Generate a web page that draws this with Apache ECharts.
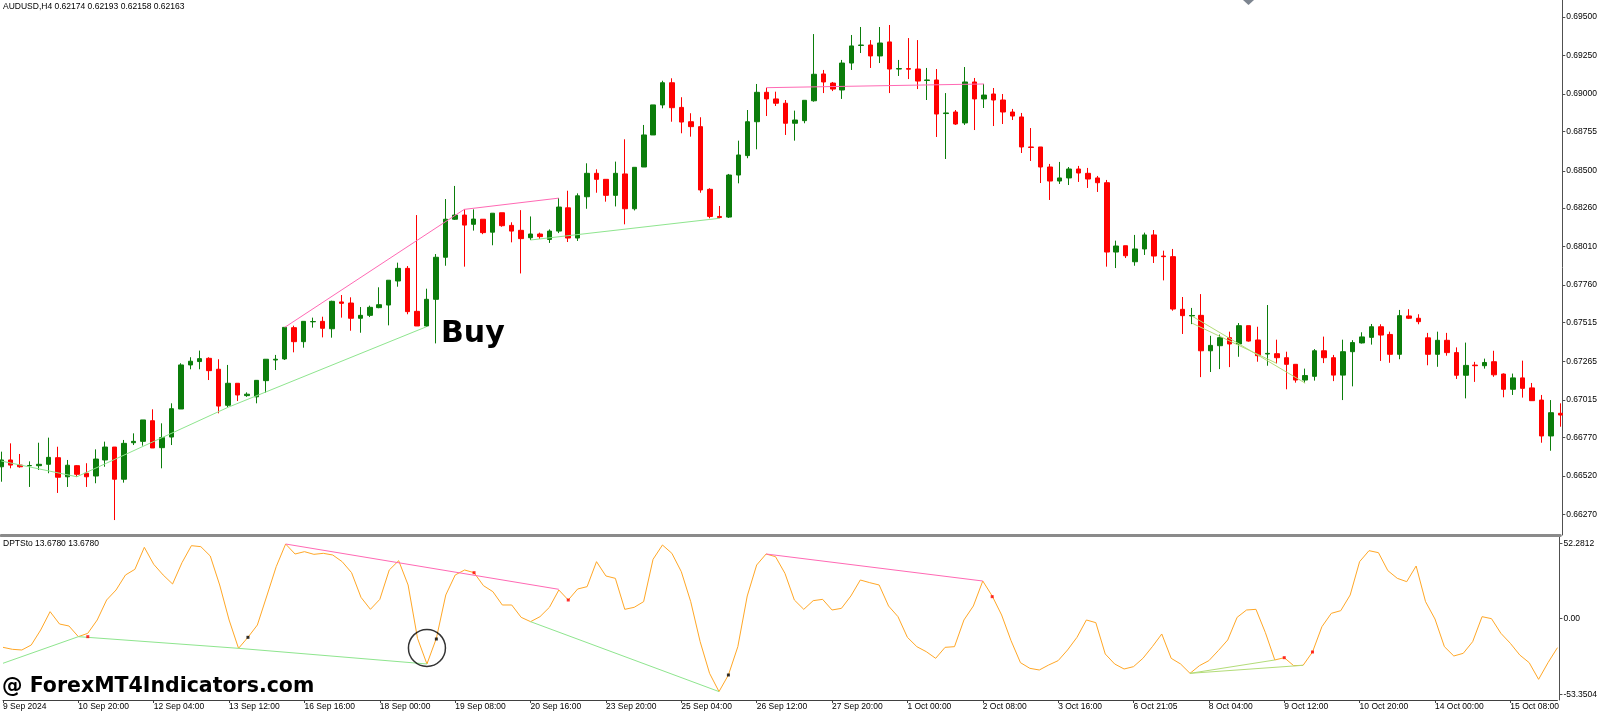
<!DOCTYPE html>
<html><head><meta charset="utf-8">
<script src="https://cdn.jsdelivr.net/npm/echarts@6/dist/echarts.min.js"></script>
<style>html,body{margin:0;padding:0;background:#fff;overflow:hidden}#c{width:1600px;height:712px}</style>
</head><body><div id="c"></div>
<script>
// ---- DATA ----
const symbolTitle = "AUDUSD,H4 0.62174 0.62193 0.62158 0.62163";
const oscTitle = "DPTSto 13.6780 13.6780";
const tickLabels = ["9 Sep 2024","10 Sep 20:00","12 Sep 04:00","13 Sep 12:00","16 Sep 16:00","18 Sep 00:00","19 Sep 08:00","20 Sep 16:00","23 Sep 20:00","25 Sep 04:00","26 Sep 12:00","27 Sep 20:00","1 Oct 00:00","2 Oct 08:00","3 Oct 16:00","6 Oct 21:05","8 Oct 04:00","9 Oct 12:00","10 Oct 20:00","14 Oct 00:00","15 Oct 08:00"];
const barsPerLabel = 8;
const priceTicks = [0.69500,0.69250,0.69000,0.68755,0.68500,0.68260,0.68010,0.67760,0.67515,0.67265,0.67015,0.66770,0.66520,0.66270];
const oscTicks = [52.2812, 0, -53.3504];
// [open, close, low, high]
const candles = [
[0.66580,0.66624,0.66483,0.66678],[0.66624,0.66591,0.66570,0.66732],[0.66591,0.66580,0.66574,0.66663],[0.66587,0.66588,0.66449,0.66615],
[0.66587,0.66596,0.66559,0.66736],[0.66596,0.66641,0.66538,0.66769],[0.66639,0.66512,0.66410,0.66710],[0.66515,0.66590,0.66449,0.66624],
[0.66587,0.66531,0.66515,0.66591],[0.66538,0.66515,0.66449,0.66603],[0.66520,0.66630,0.66473,0.66693],[0.66624,0.66708,0.66580,0.66743],
[0.66708,0.66499,0.66234,0.66708],[0.66499,0.66732,0.66477,0.66754],[0.66736,0.66745,0.66721,0.66797],[0.66745,0.66884,0.66717,0.66884],
[0.66879,0.66702,0.66702,0.66953],[0.66704,0.66769,0.66570,0.66862],[0.66773,0.66957,0.66721,0.66992],[0.66955,0.67241,0.66955,0.67252],
[0.67241,0.67265,0.67213,0.67291],[0.67263,0.67282,0.67213,0.67334],[0.67284,0.67204,0.67143,0.67291],[0.67213,0.66974,0.66927,0.67278],
[0.66979,0.67122,0.66966,0.67241],[0.67122,0.67046,0.67007,0.67122],[0.67042,0.67051,0.67034,0.67063],[0.67034,0.67141,0.66992,0.67143],
[0.67139,0.67278,0.67061,0.67278],[0.67273,0.67278,0.67208,0.67306],[0.67280,0.67485,0.67273,0.67485],[0.67483,0.67392,0.67323,0.67496],
[0.67392,0.67524,0.67353,0.67524],[0.67521,0.67523,0.67483,0.67548],[0.67524,0.67479,0.67420,0.67554],[0.67476,0.67654,0.67418,0.67658],
[0.67650,0.67641,0.67548,0.67695],[0.67643,0.67544,0.67463,0.67680],[0.67544,0.67563,0.67450,0.67617],[0.67563,0.67615,0.67552,0.67626],
[0.67613,0.67632,0.67609,0.67745],[0.67630,0.67791,0.67498,0.67791],[0.67786,0.67868,0.67749,0.67905],[0.67868,0.67587,0.67570,0.67883],
[0.67589,0.67494,0.67494,0.68214],[0.67494,0.67667,0.67489,0.67736],[0.67667,0.67940,0.67381,0.67961],[0.67940,0.68187,0.67885,0.68318],
[0.68187,0.68214,0.68182,0.68403],[0.68214,0.68149,0.67879,0.68251],[0.68154,0.68188,0.68113,0.68251],[0.68187,0.68100,0.68090,0.68187],
[0.68103,0.68226,0.68018,0.68226],[0.68229,0.68145,0.68138,0.68229],[0.68147,0.68110,0.68037,0.68167],[0.68115,0.68061,0.67835,0.68246],
[0.68067,0.68091,0.68052,0.68205],[0.68091,0.68074,0.68059,0.68100],[0.68056,0.68110,0.68033,0.68121],[0.68110,0.68266,0.68097,0.68324],
[0.68261,0.68065,0.68039,0.68372],[0.68065,0.68339,0.68046,0.68355],[0.68333,0.68485,0.68255,0.68550],[0.68485,0.68446,0.68359,0.68511],
[0.68446,0.68342,0.68301,0.68446],[0.68342,0.68485,0.68270,0.68561],[0.68481,0.68255,0.68154,0.68706],[0.68255,0.68524,0.68244,0.68524],
[0.68526,0.68734,0.68526,0.68799],[0.68734,0.68929,0.68734,0.68929],[0.68929,0.69073,0.68907,0.69086],[0.69073,0.68911,0.68820,0.69102],
[0.68913,0.68818,0.68745,0.68979],[0.68820,0.68788,0.68723,0.68875],[0.68788,0.68377,0.68359,0.68849],[0.68381,0.68205,0.68193,0.68388],
[0.68205,0.68198,0.68193,0.68273],[0.68201,0.68474,0.68195,0.68481],[0.68474,0.68604,0.68420,0.68697],[0.68600,0.68820,0.68583,0.68896],
[0.68820,0.69011,0.68641,0.69065],[0.69011,0.68968,0.68857,0.69041],[0.68968,0.68940,0.68922,0.69015],[0.68940,0.68810,0.68734,0.68961],
[0.68810,0.68831,0.68697,0.68892],[0.68827,0.68959,0.68810,0.68959],[0.68956,0.69128,0.68950,0.69389],[0.69130,0.69078,0.69006,0.69156],
[0.69071,0.69032,0.69019,0.69078],[0.69026,0.69201,0.68968,0.69221],[0.69201,0.69312,0.69156,0.69383],[0.69315,0.69318,0.69266,0.69435],
[0.69318,0.69247,0.69169,0.69350],[0.69247,0.69331,0.69201,0.69435],[0.69338,0.69162,0.69006,0.69448],[0.69162,0.69165,0.69117,0.69221],
[0.69165,0.69161,0.69097,0.69363],[0.69162,0.69084,0.69032,0.69350],[0.69088,0.69091,0.68961,0.69169],[0.69091,0.68870,0.68721,0.69162],
[0.68873,0.68877,0.68578,0.69006],[0.68883,0.68805,0.68799,0.68896],[0.68812,0.69078,0.68799,0.69175],[0.69078,0.68968,0.68766,0.69104],
[0.68968,0.68993,0.68909,0.69065],[0.69000,0.68961,0.68792,0.69039],[0.68961,0.68883,0.68805,0.69000],[0.68883,0.68857,0.68831,0.68903],
[0.68851,0.68656,0.68617,0.68877],[0.68656,0.68653,0.68565,0.68779],[0.68656,0.68526,0.68422,0.68656],[0.68526,0.68435,0.68312,0.68546],
[0.68435,0.68455,0.68416,0.68559],[0.68455,0.68513,0.68409,0.68526],[0.68513,0.68487,0.68429,0.68533],[0.68485,0.68448,0.68390,0.68520],
[0.68455,0.68424,0.68364,0.68468],[0.68424,0.67974,0.67879,0.68442],[0.67974,0.68013,0.67870,0.68048],[0.68015,0.67950,0.67935,0.68015],
[0.67911,0.67994,0.67885,0.68085],[0.67994,0.68085,0.67955,0.68100],[0.68085,0.67948,0.67903,0.68117],[0.67948,0.67944,0.67790,0.67983],
[0.67944,0.67604,0.67593,0.67994],[0.67602,0.67561,0.67442,0.67682],[0.67559,0.67562,0.67506,0.67611],[0.67563,0.67333,0.67162,0.67701],
[0.67333,0.67368,0.67195,0.67430],[0.67366,0.67418,0.67214,0.67438],[0.67418,0.67377,0.67227,0.67457],[0.67377,0.67496,0.67294,0.67513],
[0.67496,0.67396,0.67392,0.67496],[0.67403,0.67301,0.67262,0.67489],[0.67312,0.67316,0.67236,0.67630],[0.67314,0.67288,0.67251,0.67405],
[0.67288,0.67245,0.67083,0.67327],[0.67245,0.67143,0.67126,0.67245],[0.67143,0.67172,0.67123,0.67217],[0.67167,0.67333,0.67139,0.67344],
[0.67333,0.67288,0.67253,0.67425],[0.67288,0.67175,0.67136,0.67306],[0.67175,0.67327,0.67013,0.67405],[0.67327,0.67386,0.67102,0.67402],
[0.67384,0.67423,0.67380,0.67453],[0.67420,0.67489,0.67373,0.67507],[0.67489,0.67435,0.67267,0.67505],[0.67439,0.67310,0.67255,0.67457],
[0.67310,0.67561,0.67278,0.67598],[0.67559,0.67544,0.67539,0.67603],[0.67544,0.67522,0.67505,0.67570],[0.67417,0.67310,0.67239,0.67449],
[0.67310,0.67401,0.67229,0.67457],[0.67401,0.67321,0.67301,0.67449],[0.67321,0.67174,0.67150,0.67355],[0.67174,0.67238,0.67024,0.67386],
[0.67240,0.67236,0.67131,0.67261],[0.67236,0.67257,0.67217,0.67282],[0.67262,0.67177,0.67164,0.67333],[0.67182,0.67083,0.67031,0.67186],
[0.67083,0.67157,0.67046,0.67185],[0.67157,0.67089,0.67029,0.67269],[0.67092,0.67009,0.67007,0.67124],[0.67013,0.66780,0.66736,0.67046],
[0.66780,0.66931,0.66684,0.67013],[0.66927,0.66916,0.66840,0.66992]
];
const oscValues = [
-20.27,-21.66,-22.13,-18.64,-8.16,4.63,-3.98,-5.37,-12.82,-10.49,
-1.18,12.78,19.76,30.23,34.19,49.55,37.68,30.23,23.95,38.84,
50.71,50.01,43.50,23.25,-1.18,-20.96,-13.28,-4.67,15.57,36.05,
51.87,44.89,46.52,44.66,45.36,44.20,39.54,31.86,14.64,6.26,
13.24,33.72,40.24,23.25,-13.98,-31.90,-13.98,16.27,30.23,33.72,
31.86,22.79,18.60,9.29,9.29,0.68,-2.35,1.14,7.66,19.76,
12.78,20.46,22.09,39.54,29.54,27.90,6.26,7.66,11.61,41.17,
51.18,45.36,32.56,11.61,-16.31,-38.42,-51.17,-39.58,-19.80,15.57,
37.21,44.89,43.03,31.40,12.78,6.26,12.31,13.24,5.80,6.96,
15.57,26.74,24.88,23.25,8.59,1.14,-13.28,-19.80,-23.29,-27.94,
-20.27,-19.80,-1.18,8.59,26.04,15.57,2.31,-15.61,-30.97,-34.93,
-36.09,-32.60,-29.57,-22.13,-13.28,-1.18,-3.04,-24.92,-31.90,-35.39,
-33.76,-27.94,-19.80,-10.96,-27.94,-31.90,-38.42,-33.06,-29.57,-22.59,
-15.15,0.68,5.80,6.26,-10.03,-29.11,-27.48,-33.06,-32.83,-23.52,
-5.84,3.47,5.33,16.27,39.54,47.22,45.82,33.26,27.90,25.58,
36.51,11.61,-0.49,-19.80,-26.32,-24.45,-16.31,1.14,-0.25,-10.49,
-17.47,-25.62,-30.97,-42.61,-30.97,-20.50
];
// divergence lines [barIndex, value]
const mainPinkLines = [ [[30,0.67485],[49,0.68251]], [[49,0.68251],[59,0.68324]], [[81,0.69041],[104,0.69065]] ];
const mainGreenLines = [ [[0,0.66617],[8,0.66515]], [[8,0.66515],[24,0.66966]], [[24,0.66966],[45,0.67489]], [[56,0.68052],[76,0.68193]] ];
const mainYGreenLines = [ [[126,0.67559],[138,0.67123]], [[126,0.67513],[135,0.67251]] ];
const oscPinkLines = [ [[30,51.87],[59,20.23]], [[81,44.89],[104,26.04]] ];
const oscGreenLines = [ [[0,-31.4],[8,-12.82]], [[8,-12.82],[25,-20.96]], [[25,-20.96],[45,-31.90]], [[56,-2.35],[76,-51.17]] ];
const oscYGreenLines = [ [[126,-38.42],[135,-29.11]], [[126,-38.42],[138,-32.83]] ];
const oscRedDots = [[9,-12.82],[50,31.86],[60,12.78],[105,15.11],[136,-27.48],[139,-23.52]];
const oscBlackDots = [[26,-13.28],[46,-14.45],[77,-39.58]];
const oscCircle = [[45,-20.7]];
const buyText = "Buy";
const watermark = "@ ForexMT4Indicators.com";

// ---- CHART ----
const FONT = '"Liberation Sans", Arial, sans-serif';
const cats = candles.map((_, i) => String(i));
const isTick = i => i % barsPerLabel === 0 && i / barsPerLabel < tickLabels.length;
const lineSeries = (segs, color, xi, yi, z) => segs.map(s => ({
  type: 'line', xAxisIndex: xi, yAxisIndex: yi, data: s, showSymbol: false, symbol: 'none',
  lineStyle: { color: color, width: 1 }, z: z, silent: true
}));

const chart = echarts.init(document.getElementById('c'), null, { renderer: 'canvas' });
chart.setOption({
  animation: false,
  backgroundColor: '#ffffff',
  grid: [
    { left: 1.3, width: 1559.6, top: 0, height: 535 },
    { left: 1.3, width: 1559.6, top: 537, height: 163 }
  ],
  xAxis: [
    { type: 'category', gridIndex: 0, data: cats, boundaryGap: false, position: 'bottom',
      axisLine: { show: true, onZero: false, lineStyle: { color: '#8a8a8a', width: 3 } },
      axisTick: { show: false }, axisLabel: { show: false }, splitLine: { show: false } },
    { type: 'category', gridIndex: 1, data: cats, boundaryGap: false, position: 'bottom',
      axisLine: { show: true, onZero: false, lineStyle: { color: '#404040', width: 1 } },
      axisTick: { show: true, interval: (i) => isTick(i), length: 3, lineStyle: { color: '#404040' } },
      axisLabel: { show: true, interval: (i) => isTick(i), formatter: (v, i) => tickLabels[i / barsPerLabel],
        align: 'left', margin: 2, fontSize: 8.5, color: '#000', fontFamily: FONT },
      splitLine: { show: false } }
  ],
  yAxis: [
    { type: 'value', gridIndex: 0, position: 'right', offset: 2, min: 0.66137, max: 0.696102, scale: true,
      axisLine: { show: true, lineStyle: { color: '#505050', width: 1 } },
      axisTick: { show: true, customValues: priceTicks, length: 3, lineStyle: { color: '#505050' } },
      axisLabel: { customValues: priceTicks, formatter: v => v.toFixed(5), margin: 4, fontSize: 8.5, color: '#000', fontFamily: FONT },
      splitLine: { show: false } },
    { type: 'value', gridIndex: 1, position: 'right', offset: 2, min: -57.04, max: 56.76,
      axisLine: { show: true, lineStyle: { color: '#505050', width: 1 } },
      axisTick: { show: true, customValues: oscTicks, length: 3, lineStyle: { color: '#505050' } },
      axisLabel: { customValues: oscTicks, formatter: v => (v === 0 ? '0.00' : String(v)), margin: 4, fontSize: 8.5, color: '#000', fontFamily: FONT },
      splitLine: { show: false } }
  ],
  series: [
    { type: 'candlestick', xAxisIndex: 0, yAxisIndex: 0, data: candles, barWidth: 5, clip: false, z: 2,
      itemStyle: { color: '#0b7d0b', color0: '#ff0000', borderColor: '#0b7d0b', borderColor0: '#ff0000', borderWidth: 1,
        borderColorDoji: '#0b7d0b' } },
    ...lineSeries(mainPinkLines, '#ff69b4', 0, 0, 5),
    ...lineSeries(mainGreenLines, '#8ee58e', 0, 0, 5),
    ...lineSeries(mainYGreenLines, '#b3dc78', 0, 0, 5),
    { type: 'line', xAxisIndex: 1, yAxisIndex: 1, data: oscValues, showSymbol: false, symbol: 'none',
      lineStyle: { color: '#ffa726', width: 1 }, z: 3, silent: true },
    ...lineSeries(oscPinkLines, '#ff69b4', 1, 1, 4),
    ...lineSeries(oscGreenLines, '#8ee58e', 1, 1, 4),
    ...lineSeries(oscYGreenLines, '#b3dc78', 1, 1, 4),
    { type: 'scatter', xAxisIndex: 1, yAxisIndex: 1, data: oscRedDots, symbol: 'rect', symbolSize: 3,
      itemStyle: { color: '#ff0000' }, z: 6, silent: true },
    { type: 'scatter', xAxisIndex: 1, yAxisIndex: 1, data: oscBlackDots, symbol: 'rect', symbolSize: 3,
      itemStyle: { color: '#000000' }, z: 6, silent: true },
    { type: 'scatter', xAxisIndex: 1, yAxisIndex: 1, data: oscCircle, symbol: 'circle', symbolSize: 37,
      itemStyle: { color: 'rgba(0,0,0,0)', borderColor: '#000', borderWidth: 1.5 }, z: 7, silent: true }
  ],
  graphic: [
    { type: 'text', left: 3, top: 2, style: { text: symbolTitle, fontSize: 8.5, fontFamily: FONT, fill: '#000' } },
    { type: 'text', left: 3, top: 539, style: { text: oscTitle, fontSize: 8.5, fontFamily: FONT, fill: '#000' } },
    { type: 'text', x: 441, y: 334, style: { text: buyText, fontSize: 30, fontWeight: 'bold', fontFamily: '"DejaVu Sans", sans-serif', fill: '#000', verticalAlign: 'middle' } },
    { type: 'text', x: 2, y: 687, style: { text: watermark, fontSize: 20.5, fontWeight: 'bold', fontFamily: '"DejaVu Sans", sans-serif', fill: '#000', verticalAlign: 'middle' } },
    { type: 'polygon', shape: { points: [[1243, 0], [1254, 0], [1248.5, 5]] }, style: { fill: '#7d8590' } }
  ]
});
</script>
</body></html>
